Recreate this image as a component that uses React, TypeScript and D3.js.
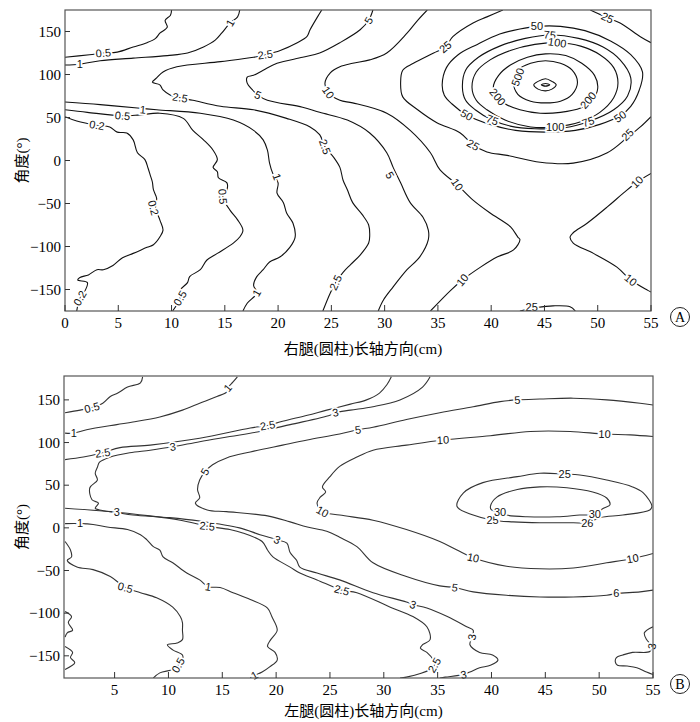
import React from 'react'
import * as d3 from 'd3'

type Pt = [number, number]
type Lbl = [number, number, string, number]

// tick values
const xTicksA = [0, 5, 10, 15, 20, 25, 30, 35, 40, 45, 50, 55]
const xTicksB = [5, 10, 15, 20, 25, 30, 35, 40, 45, 50, 55]
const yTicks = [-150, -100, -50, 0, 50, 100, 150]

// ---------- panel A: 右腿, contours as [cm, degree] ----------
const a02: Pt[] = [[0, 51], [1.1, 46], [3.0, 41], [4.2, 39], [4.9, 33], [5.8, 32], [6.4, 24], [6.8, 9], [7.5, 1], [7.8, -9], [8.0, -17], [8.2, -25], [8.3, -34], [8.6, -44], [8.5, -55], [8.9, -69], [9.2, -81], [8.9, -89], [8.3, -98], [7.7, -101], [6.4, -108], [5.4, -113], [4.5, -122], [3.6, -127], [3.0, -127], [2.2, -133], [1.4, -136], [1.2, -139], [2.1, -142], [1.9, -151], [1.4, -160], [1.1, -175]]
const a05top: Pt[] = [[0, 120], [2.3, 123], [3.6, 125], [4.9, 126], [6.4, 132], [7.7, 137], [8.5, 142], [8.9, 148], [9.6, 155], [9.4, 163], [9.9, 169], [10.0, 175]]
const a05: Pt[] = [[0, 59], [2.1, 56], [5.4, 52], [7.0, 53], [8.9, 55], [11.1, 49], [12.0, 35], [13.0, 24], [13.9, 12], [14.3, 1], [13.9, -8], [14.3, -13], [14.4, -20], [15.2, -26], [15.2, -34], [14.8, -42], [15.5, -58], [16.2, -69], [16.7, -81], [16.4, -89], [15.8, -96], [14.3, -108], [13.3, -116], [12.7, -127], [11.7, -135], [11.5, -142], [10.8, -151], [10.8, -160], [10.1, -175]]
const a1top: Pt[] = [[0, 111], [1.4, 112], [3.3, 116], [6.4, 119], [9.6, 122], [11.5, 125], [13.0, 132], [14.1, 140], [14.7, 148], [15.5, 160], [16.2, 167], [16.4, 175]]
const a1: Pt[] = [[0, 68], [3.3, 65], [6.8, 61], [8.6, 59], [12.7, 55], [15.8, 47], [17.7, 35], [18.6, 24], [19.0, 12], [19.2, -3], [19.5, -15], [20.0, -26], [19.9, -38], [20.5, -49], [20.8, -61], [21.4, -73], [21.6, -89], [21.1, -101], [20.2, -112], [19.2, -118], [18.6, -127], [18.0, -135], [17.7, -145], [18.0, -154], [17.1, -166], [16.7, -175]]
const a25: Pt[] = [[24.1, 175], [23.7, 167], [23.0, 152], [22.7, 144], [21.8, 137], [20.2, 128], [18.8, 123], [17.7, 120], [14.6, 115], [10.5, 109], [9.2, 103], [8.6, 96], [8.2, 91], [8.9, 88], [9.2, 82], [9.9, 76], [10.8, 73], [12.0, 70], [14.6, 63], [17.7, 59], [20.8, 49], [23.0, 39], [23.9, 30], [24.4, 16], [25.2, 4], [25.8, -8], [26.1, -23], [26.5, -34], [27.0, -49], [27.9, -63], [28.5, -75], [28.6, -87], [28.5, -96], [27.7, -110], [26.8, -121], [26.1, -130], [25.4, -142], [24.9, -154], [24.2, -175]]
const a5: Pt[] = [[28.9, 175], [28.5, 163], [27.7, 152], [25.8, 137], [23.9, 125], [22.3, 120], [19.9, 113], [18.6, 105], [17.7, 99], [17.1, 97], [17.1, 90], [17.6, 82], [18.1, 76], [19.0, 70], [22.3, 62], [23.9, 56], [26.5, 47], [28.6, 32], [30.2, 9], [30.8, -8], [31.5, -26], [32.4, -49], [33.6, -66], [34.1, -81], [34.1, -92], [33.3, -112], [32.1, -127], [30.8, -147], [29.9, -162], [29.4, -175]]
const a10: Pt[] = [[34.0, 175], [33.1, 163], [32.1, 148], [30.2, 125], [28.6, 117], [27.0, 113], [25.8, 109], [24.9, 102], [24.4, 90], [24.7, 79], [25.8, 70], [27.0, 67], [30.2, 55], [32.4, 35], [34.3, 9], [35.2, -11], [36.8, -28], [38.3, -46], [39.9, -61], [41.8, -77], [42.5, -89], [42.7, -92], [42.1, -104], [40.6, -112], [39.0, -124], [37.3, -139], [36.2, -151], [34.3, -175]]
const a10right: Pt[] = [[55, -15], [53.7, -25], [52.4, -38], [50.9, -54], [49.0, -73], [47.7, -84], [47.4, -89], [47.7, -96], [49.6, -108], [51.8, -124], [53.1, -139], [54.7, -151], [55, -153]]
const a25main: Pt[] = [[41.1, 175], [39.6, 167], [38.3, 160], [36.4, 144], [35.7, 132], [34.6, 125], [32.7, 113], [31.7, 105], [31.5, 90], [31.7, 74], [33.1, 59], [34.9, 44], [37.1, 32], [38.3, 18], [39.6, 10], [41.5, 6], [44.6, -2], [47.7, -3], [50.9, 9], [52.8, 27], [54.0, 39], [55, 51]]
const a25corner: Pt[] = [[49.3, 175], [50.9, 166], [52.1, 160], [54.0, 144], [55, 137]]
const a25bottom: Pt[] = [[42.7, -175], [44.3, -171], [45.8, -169], [47.4, -170], [47.9, -175]]
// closed rings round the peak
const a50: Pt[] = [[35.4, 88], [35.8, 108], [36.9, 123], [38.7, 135], [40.8, 147], [42.7, 153], [44.3, 156], [46.5, 156], [48.8, 151], [51.2, 139], [53.1, 123], [54.2, 103], [53.9, 82], [53.1, 63], [52.1, 52], [50.2, 42], [47.9, 35], [45.1, 33], [42.3, 35], [39.9, 42], [37.7, 53], [36.3, 66], [35.6, 76]]
const a75: Pt[] = [[37.3, 85], [37.6, 105], [38.8, 120], [40.8, 133], [43.2, 142], [45.5, 146], [48.2, 142], [50.5, 132], [52.1, 117], [53.1, 96], [52.8, 75], [51.5, 59], [49.3, 46], [46.9, 38], [44.1, 37], [41.8, 40], [40.1, 47], [38.5, 59], [37.6, 70]]
const a100: Pt[] = [[38.2, 85], [38.6, 103], [39.9, 117], [41.8, 128], [44.1, 135], [46.2, 137], [48.4, 133], [50.2, 123], [51.5, 108], [51.9, 90], [51.5, 73], [50.2, 56], [48.4, 45], [46.0, 39], [43.7, 39], [41.3, 47], [39.6, 59], [38.6, 70]]
const a200: Pt[] = [[40.2, 85], [40.7, 99], [41.8, 111], [43.4, 120], [45.1, 124], [47.0, 122], [48.5, 113], [49.7, 99], [50.0, 84], [49.5, 70], [48.4, 61], [46.5, 56], [44.6, 55], [42.7, 59], [41.3, 66], [40.6, 74]]
const a500: Pt[] = [[42.1, 91], [42.5, 105], [43.7, 113], [45.1, 116], [46.5, 113], [47.6, 105], [48.1, 91], [47.6, 77], [46.5, 69], [45.1, 67], [43.7, 69], [42.5, 77]]
const a1000: Pt[] = [[44.0, 88], [44.4, 92], [45.1, 95], [45.7, 92], [46.1, 88], [45.7, 83], [45.1, 81], [44.4, 83]]
const a2000: Pt[] = [[44.7, 88], [45.1, 89.5], [45.5, 88], [45.1, 86.5]]

const aLines = [a02, a05top, a05, a1top, a1, a25, a5, a10, a10right, a25main, a25corner, a25bottom]
const aRings = [a50, a75, a100, a200, a500, a1000, a2000]
const aLabels: Lbl[] = [
  [3.6, 125, '0.5', -5], [1.4, 112, '1', 0], [15.5, 160, '1', -60], [18.8, 123, '2.5', -8], [28.5, 163, '5', -60],
  [3.0, 41, '0.2', 10], [5.4, 52, '0.5', 5], [7.3, 59, '1', 5], [10.8, 73, '2.5', 10], [18.1, 76, '5', 25],
  [24.7, 79, '10', 55], [35.7, 132, '25', -40], [44.3, 156, '50', 0], [45.5, 146, '75', 5], [46.2, 137, '100', 8],
  [42.5, 97, '500', -70], [40.6, 74, '200', 50], [49.1, 70, '200', -50], [37.7, 53, '50', 30], [40.1, 47, '75', 20],
  [46.0, 39, '100', 0], [49.1, 45, '75', -20], [52.1, 51, '50', -35], [38.3, 18, '25', 30], [52.8, 30, '25', -45],
  [50.9, 166, '25', 25], [24.4, 16, '2.5', 70], [8.3, -55, '0.2', 75], [14.8, -42, '0.5', 85], [19.9, -19, '1', 70],
  [30.5, -17, '5', 60], [36.8, -28, '10', 55], [53.7, -25, '10', -45], [53.1, -139, '10', 40], [37.3, -139, '10', -50],
  [25.4, -142, '2.5', -65], [1.4, -160, '0.2', -60], [10.8, -160, '0.5', -60], [18.0, -154, '1', -60], [43.8, -171, '25', 0],
]

// ---------- panel B: 左腿 ----------
const b05top: Pt[] = [[0.4, 135], [1.8, 138], [2.9, 141], [3.9, 146], [4.6, 154], [5.3, 158], [6.2, 165], [7.4, 170], [7.6, 177]]
const b1top: Pt[] = [[0.4, 111], [1.2, 111], [2.4, 115], [5.2, 121], [6.7, 124], [9.2, 130], [11.3, 138], [12.9, 146], [14.5, 154], [15.4, 159], [15.5, 164], [16.0, 171], [16.4, 177]]
const b25top: Pt[] = [[0.4, 80], [2.1, 83], [3.9, 88], [5.5, 94], [8.3, 97], [12.9, 105], [17.6, 117], [19.2, 120], [20.6, 125], [22.9, 132], [24.7, 138], [26.9, 145], [28.4, 150], [29.6, 158], [30.3, 168], [30.7, 177]]
const b3: Pt[] = [[34.3, 177], [33.6, 165], [31.5, 150], [29.0, 142], [26.9, 138], [25.5, 135], [25.0, 132], [21.3, 121], [18.5, 113], [15.7, 107], [12.9, 101], [10.4, 95], [8.3, 91], [6.4, 88], [4.6, 83], [3.6, 77], [3.4, 71], [3.2, 64], [3.4, 56], [2.7, 47], [2.9, 33], [3.5, 29], [3.2, 23], [3.6, 21], [5.2, 18], [6.7, 15], [10.1, 12], [12.9, 8], [16.6, 0], [18.5, -8], [20.1, -14], [21.0, -18], [21.3, -29], [21.9, -38], [22.2, -46], [23.8, -53], [25.9, -61], [29.0, -76], [32.1, -87], [32.7, -90], [34.0, -94], [35.9, -104], [37.7, -116], [38.3, -120], [38.2, -128], [38.0, -137], [38.9, -146], [40.1, -149], [40.6, -155], [39.9, -161], [38.9, -164], [38.0, -169], [37.4, -172], [35.7, -175], [35.2, -176]]
const b25: Pt[] = [[0.4, 23], [3.6, 20], [8.3, 14], [11.1, 9], [13.6, 2], [15.7, -2], [16.9, -6], [18.7, -16], [19.2, -26], [19.7, -34], [21.3, -46], [22.2, -53], [23.8, -61], [26.1, -73], [27.5, -76], [30.6, -93], [32.7, -104], [34.0, -116], [34.3, -131], [33.6, -137], [33.4, -141], [34.0, -146], [34.6, -155], [34.7, -161], [34.3, -166], [32.1, -175], [31.5, -176]]
const b1: Pt[] = [[0.4, 5], [1.8, 5], [3.0, 4], [4.3, 1], [6.2, -2], [7.4, -8], [8.0, -14], [8.6, -22], [9.2, -26], [9.5, -34], [10.4, -41], [11.7, -53], [12.9, -61], [13.7, -69], [14.8, -70], [16.0, -76], [17.6, -84], [19.2, -94], [19.6, -104], [20.1, -120], [19.5, -131], [19.2, -139], [19.9, -146], [20.1, -155], [19.4, -163], [18.7, -169], [18.0, -173], [17.6, -176]]
const b05: Pt[] = [[0.4, -16], [0.9, -26], [1.0, -34], [0.6, -38], [1.5, -46], [3.0, -49], [4.6, -57], [6.0, -70], [7.4, -76], [8.9, -82], [10.4, -93], [11.1, -104], [11.3, -111], [11.3, -120], [11.3, -131], [10.8, -135], [9.9, -137], [10.4, -143], [11.3, -149], [11.3, -155], [10.9, -161], [10.4, -166], [9.2, -170], [8.6, -176]]
const b05edge1: Pt[] = [[0.4, -98], [1.0, -104], [0.7, -111], [1.1, -120], [0.6, -123], [0.4, -128]]
const b05edge2: Pt[] = [[0.4, -139], [1.1, -146], [0.9, -152], [1.3, -158], [0.4, -166]]
const b5: Pt[] = [[55.0, 144], [53.8, 146], [50.7, 150], [47.6, 152], [44.5, 151], [42.4, 150], [40.8, 148], [38.3, 142], [35.2, 135], [32.1, 127], [29.0, 118], [27.6, 115], [25.9, 110], [22.9, 103], [20.6, 97], [17.6, 89], [15.4, 82], [14.1, 74], [13.4, 66], [12.9, 56], [12.7, 45], [12.9, 35], [12.5, 29], [13.6, 21], [15.4, 19], [19.2, 14], [21.3, 7], [22.9, 1], [24.7, -4], [25.9, -11], [27.5, -22], [29.0, -41], [32.1, -57], [35.2, -68], [36.6, -70], [38.3, -75], [41.4, -79], [44.5, -81], [47.6, -81], [50.7, -79], [51.6, -77], [53.8, -75], [55.0, -73]]
const b10: Pt[] = [[55.0, 107], [52.9, 109], [50.5, 110], [47.3, 113], [43.6, 113], [39.9, 108], [35.5, 103], [32.1, 97], [29.0, 91], [27.5, 83], [25.9, 72], [25.0, 60], [24.3, 48], [24.6, 42], [24.1, 36], [23.8, 29], [24.3, 19], [25.9, 15], [29.0, 9], [32.1, -2], [35.2, -16], [36.8, -26], [38.3, -35], [41.4, -45], [44.5, -48], [47.6, -47], [50.7, -41], [53.1, -36], [55.0, -30]]
const b3right: Pt[] = [[55.0, -116], [54.2, -123], [54.4, -131], [54.9, -139], [54.7, -145], [53.1, -146], [52.2, -149], [51.6, -152], [51.5, -157], [51.7, -161], [52.6, -162], [53.5, -164], [54.4, -169], [55.0, -172]]
const b25ring: Pt[] = [[36.8, 25], [37.4, 41], [39.2, 53], [42.4, 60], [44.5, 64], [46.8, 63], [48.2, 62], [50.7, 56], [53.1, 48], [54.1, 41], [54.9, 25], [54.7, 21], [52.2, 15], [50.1, 12], [48.9, 6], [47.6, 6], [44.5, 6], [42.0, 7], [40.1, 9], [38.3, 15]]
const b30ring: Pt[] = [[39.9, 25], [40.5, 36], [42.4, 45], [44.5, 48], [47.0, 47], [49.4, 42], [50.7, 35], [51.0, 27], [50.4, 23], [49.6, 16], [48.2, 15], [46.1, 13], [43.3, 13], [41.4, 15], [40.8, 18], [40.0, 21]]

const bLines = [b05top, b1top, b25top, b3, b25, b1, b05, b05edge1, b05edge2, b5, b10, b3right]
const bRings = [b25ring, b30ring]
const bLabels: Lbl[] = [
  [2.9, 141, '0.5', -15], [1.2, 111, '1', 0], [15.5, 164, '1', -50], [3.9, 88, '2.5', -8], [19.2, 120, '2.5', -10],
  [10.4, 95, '3', -8], [25.5, 135, '3', -12], [13.4, 66, '5', -60], [27.6, 115, '5', -8], [42.4, 150, '5', -3],
  [35.5, 103, '10', -3], [50.5, 110, '10', 2], [24.3, 19, '10', 30], [38.3, -35, '10', 12], [53.1, -36, '10', -10],
  [46.8, 63, '25', 0], [40.1, 9, '25', 0], [48.9, 6, '26', 0], [40.8, 18, '30', 0], [49.6, 16, '30', 0],
  [5.2, 18, '3', 0], [13.6, 2, '2.5', 5], [1.8, 5, '1', 0], [20.1, -14, '3', 25], [26.1, -73, '2.5', 15],
  [32.7, -90, '3', 20], [36.6, -70, '5', 8], [51.6, -77, '6', 0], [13.7, -69, '1', 10], [6.0, -70, '0.5', 15],
  [38.2, -128, '3', -80], [34.7, -161, '2.5', -60], [37.4, -172, '3', -10], [10.9, -161, '0.5', -60],
  [18.0, -173, '1', -30], [54.9, -139, '3', -80],
]

const serif = '"Liberation Serif", "DejaVu Serif", "Noto Sans CJK SC", serif'
const sans = '"Liberation Sans", Arial, sans-serif'

interface PanelProps {
  id: string
  x: d3.ScaleLinear<number, number>
  y: d3.ScaleLinear<number, number>
  xTicks: number[]
  lines: Pt[][]
  rings: Pt[][]
  labels: Lbl[]
  title: string
  titleGap: number
  tag: string
  stroke: string
}

const ContourPanel = ({ id, x, y, xTicks, lines, rings, labels, title, titleGap, tag, stroke }: PanelProps) => {
  const [x0, x1] = x.range()
  const [y0, y1] = y.range() // y0 bottom, y1 top
  const line = d3.line<Pt>().x(d => x(d[0])).y(d => y(d[1])).curve(d3.curveCatmullRom.alpha(0.5))
  const ring = d3.line<Pt>().x(d => x(d[0])).y(d => y(d[1])).curve(d3.curveCatmullRomClosed.alpha(0.5))
  const midY = (y0 + y1) / 2
  return (
    <g>
      <defs>
        <clipPath id={id}>
          <rect x={x0} y={y1} width={x1 - x0} height={y0 - y1} />
        </clipPath>
      </defs>
      <g clipPath={`url(#${id})`} fill="none" stroke={stroke} strokeWidth={1.1}>
        {lines.map((l, i) => <path key={'l' + i} d={line(l) || ''} />)}
        {rings.map((l, i) => <path key={'r' + i} d={ring(l) || ''} />)}
      </g>
      <g fontFamily={sans} fontSize={11} textAnchor="middle">
        {labels.map((l, i) => (
          <text key={i} transform={`translate(${x(l[0])},${y(l[1])}) rotate(${l[3]})`} dy="0.35em"
            stroke="#fff" strokeWidth={3.5} paintOrder="stroke" fill="#111">{l[2]}</text>
        ))}
      </g>
      <rect x={x0} y={y1} width={x1 - x0} height={y0 - y1} fill="none" stroke="#555" strokeWidth={1.2} />
      {xTicks.map(t => (
        <g key={'x' + t}>
          <line x1={x(t)} x2={x(t)} y1={y0} y2={y0 - 6} stroke="#333" />
          <text x={x(t)} y={y0 + 17} textAnchor="middle" fontFamily={serif} fontSize={15}>{t}</text>
        </g>
      ))}
      {yTicks.map(t => (
        <g key={'y' + t}>
          <line x1={x0} x2={x0 + 5} y1={y(t)} y2={y(t)} stroke="#333" />
          <text x={x0 - 4} y={y(t)} dy="0.35em" textAnchor="end" fontFamily={serif} fontSize={15}>{t < 0 ? '\u2212' + Math.abs(t) : t}</text>
        </g>
      ))}
      <text x={(x0 + x1) / 2 + 5} y={y0 + titleGap} textAnchor="middle" fontFamily={serif} fontSize={15}>{title}</text>
      <text transform={`translate(27,${midY}) rotate(-90)`} textAnchor="middle" fontFamily={serif} fontSize={15}>角度(°)</text>
      <circle cx={680} cy={y0 + 6} r={9.5} fill="none" stroke="#222" strokeWidth={1} />
      <text x={680} y={y0 + 6} dy="0.36em" textAnchor="middle" fontFamily={serif} fontSize={14}>{tag}</text>
    </g>
  )
}

const App = () => {
  const xA = d3.scaleLinear().domain([0, 55]).range([65, 651])
  const yA = d3.scaleLinear().domain([-175, 175]).range([311, 10])
  const xB = d3.scaleLinear().domain([0.3, 55]).range([64, 653])
  const yB = d3.scaleLinear().domain([-176, 178]).range([678, 376])
  return (
    <svg width={700} height={722} style={{ position: 'absolute', left: 0, top: 0, background: '#fff' }}>
      <rect width={700} height={722} fill="#fff" />
      <ContourPanel id="clipA" x={xA} y={yA} xTicks={xTicksA} lines={aLines} rings={aRings} labels={aLabels}
        title="右腿(圆柱)长轴方向(cm)" titleGap={43} tag="A" stroke="#111" />
      <ContourPanel id="clipB" x={xB} y={yB} xTicks={xTicksB} lines={bLines} rings={bRings} labels={bLabels}
        title="左腿(圆柱)长轴方向(cm)" titleGap={38} tag="B" stroke="#333" />
    </svg>
  )
}

export default App
